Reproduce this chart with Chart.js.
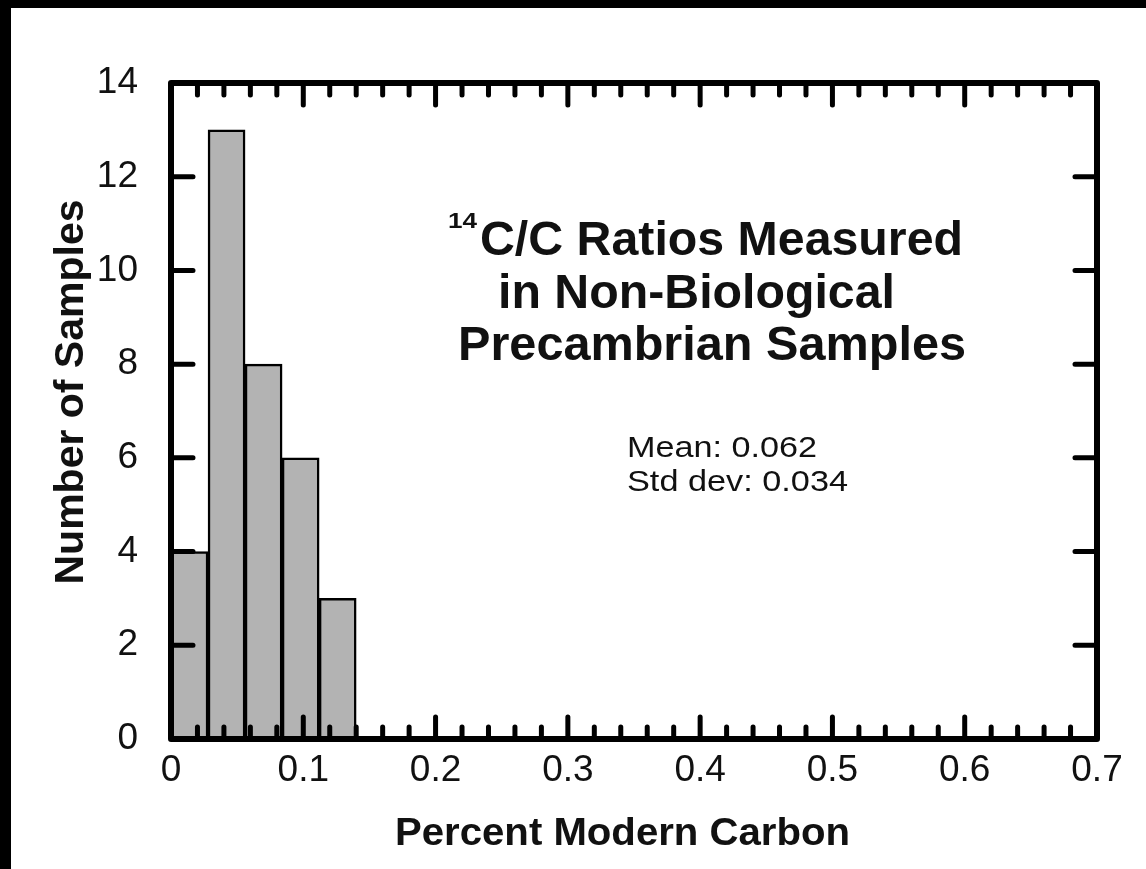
<!DOCTYPE html>
<html>
<head>
<meta charset="utf-8">
<script src="https://cdn.jsdelivr.net/npm/chart.js@4.4.1/dist/chart.umd.min.js"></script>
<style>
  html, body { margin: 0; padding: 0; background: #000; width: 1146px; height: 869px; overflow: hidden; }
  #wrap { position: absolute; left: 11px; top: 8px; width: 1135px; height: 861px; background: #fff; }
  canvas { display: block; }
</style>
</head>
<body>
<div id="wrap"><canvas id="c"></canvas></div>
<script>
// ---- data ----
const binStarts = [0, 0.028, 0.056, 0.084, 0.112];
const binWidth = 0.028;
const counts = [4, 13, 8, 6, 3];
const xTickValues = [0, 0.1, 0.2, 0.3, 0.4, 0.5, 0.6, 0.7];
const yTickValues = [0, 2, 4, 6, 8, 10, 12, 14];
const xMinorStep = 0.02;
const titleLines = ["C/C Ratios Measured", "in Non-Biological", "Precambrian Samples"];
const titleSup = "14";
const statLines = ["Mean: 0.062", "Std dev: 0.034"];
const xTitle = "Percent Modern Carbon";
const yTitle = "Number of Samples";

const barData = binStarts.map((s, i) => ({ x: s + binWidth / 2, y: counts[i] }));

function fitText(ctx, text, x, y, width, font) {
  ctx.font = font;
  const w = ctx.measureText(text).width;
  ctx.save();
  ctx.translate(x, y);
  ctx.scale(width / w, 1);
  ctx.textAlign = 'left';
  ctx.textBaseline = 'alphabetic';
  ctx.fillText(text, 0, 0);
  ctx.restore();
}

const framePlugin = {
  id: 'frame',
  afterDatasetsDraw(chart) {
    const ctx = chart.ctx;
    const a = chart.chartArea;
    const xs = chart.scales.x, ys = chart.scales.y;
    ctx.save();
    ctx.strokeStyle = '#000';
    ctx.lineCap = 'round';
    ctx.lineWidth = 5;
    // x ticks (top and bottom, inward)
    const nMinor = Math.round((xs.max - xs.min) / xMinorStep);
    for (let i = 1; i < nMinor; i++) {
      const v = xs.min + i * xMinorStep;
      const isMajor = Math.abs(v * 10 - Math.round(v * 10)) < 1e-6;
      const len = isMajor ? 22 : 12;
      const px = xs.getPixelForValue(v);
      ctx.beginPath();
      ctx.moveTo(px, a.bottom); ctx.lineTo(px, a.bottom - len);
      ctx.moveTo(px, a.top); ctx.lineTo(px, a.top + len);
      ctx.stroke();
    }
    // y ticks (left and right, inward)
    yTickValues.forEach(v => {
      if (v === ys.min || v === ys.max) return;
      const py = ys.getPixelForValue(v);
      ctx.beginPath();
      ctx.moveTo(a.left, py); ctx.lineTo(a.left + 22, py);
      ctx.moveTo(a.right, py); ctx.lineTo(a.right - 22, py);
      ctx.stroke();
    });
    // frame
    ctx.lineCap = 'butt';
    ctx.lineJoin = 'round';
    ctx.lineWidth = 6;
    ctx.strokeRect(a.left, a.top, a.right - a.left, a.bottom - a.top);

    // texts
    ctx.fillStyle = '#111';
    fitText(ctx, titleSup, 437, 220, 29, 'bold 22px "Liberation Sans", Arial, sans-serif');
    fitText(ctx, titleLines[0], 469, 247, 483, 'bold 48px "Liberation Sans", Arial, sans-serif');
    fitText(ctx, titleLines[1], 487, 300, 397, 'bold 48px "Liberation Sans", Arial, sans-serif');
    fitText(ctx, titleLines[2], 447, 352, 508, 'bold 48px "Liberation Sans", Arial, sans-serif');
    fitText(ctx, statLines[0], 616, 449, 190, '30px "Liberation Sans", Arial, sans-serif');
    fitText(ctx, statLines[1], 616, 483, 221, '30px "Liberation Sans", Arial, sans-serif');
    // axis titles
    fitText(ctx, xTitle, 384, 837, 455, 'bold 38px "Liberation Sans", Arial, sans-serif');
    ctx.save();
    ctx.translate(72, 384);
    ctx.rotate(-Math.PI / 2);
    ctx.font = 'bold 41px "Liberation Sans", Arial, sans-serif';
    ctx.textAlign = 'center';
    ctx.textBaseline = 'alphabetic';
    ctx.fillText(yTitle, 0, 0);
    ctx.restore();
    ctx.restore();
  }
};

new Chart(document.getElementById('c'), {
  type: 'bar',
  data: {
    datasets: [{
      data: barData,
      backgroundColor: '#b3b3b3',
      borderColor: '#000',
      borderWidth: 2.5,
      barPercentage: 1,
      categoryPercentage: 1,
      borderSkipped: false
    }]
  },
  options: {
    responsive: true,
    maintainAspectRatio: false,
    animation: false,
    events: [],
    layout: { padding: { left: 0, right: 49, top: 75, bottom: 0 } },
    plugins: { legend: { display: false }, tooltip: { enabled: false }, title: { display: false } },
    scales: {
      x: {
        type: 'linear',
        min: 0, max: 0.7,
        offset: false,
        afterFit(s) { s.height = 130; },
        afterBuildTicks(s) { s.ticks = xTickValues.map(v => ({ value: v })); },
        grid: { display: false, drawTicks: false },
        border: { display: false },
        ticks: {
          padding: 10,
          color: '#111',
          font: { family: '"Liberation Sans", Arial, sans-serif', size: 37 },
          maxRotation: 0,
          autoSkip: false,
          callback: v => String(Math.round(v * 10) / 10)
        }
      },
      y: {
        type: 'linear',
        min: 0, max: 14,
        afterFit(s) { s.width = 160; },
        afterBuildTicks(s) { s.ticks = yTickValues.map(v => ({ value: v })); },
        grid: { display: false, drawTicks: false },
        border: { display: false },
        ticks: {
          padding: 33,
          color: '#111',
          font: { family: '"Liberation Sans", Arial, sans-serif', size: 37 },
          autoSkip: false
        }
      }
    }
  },
  plugins: [framePlugin]
});
</script>
</body>
</html>
